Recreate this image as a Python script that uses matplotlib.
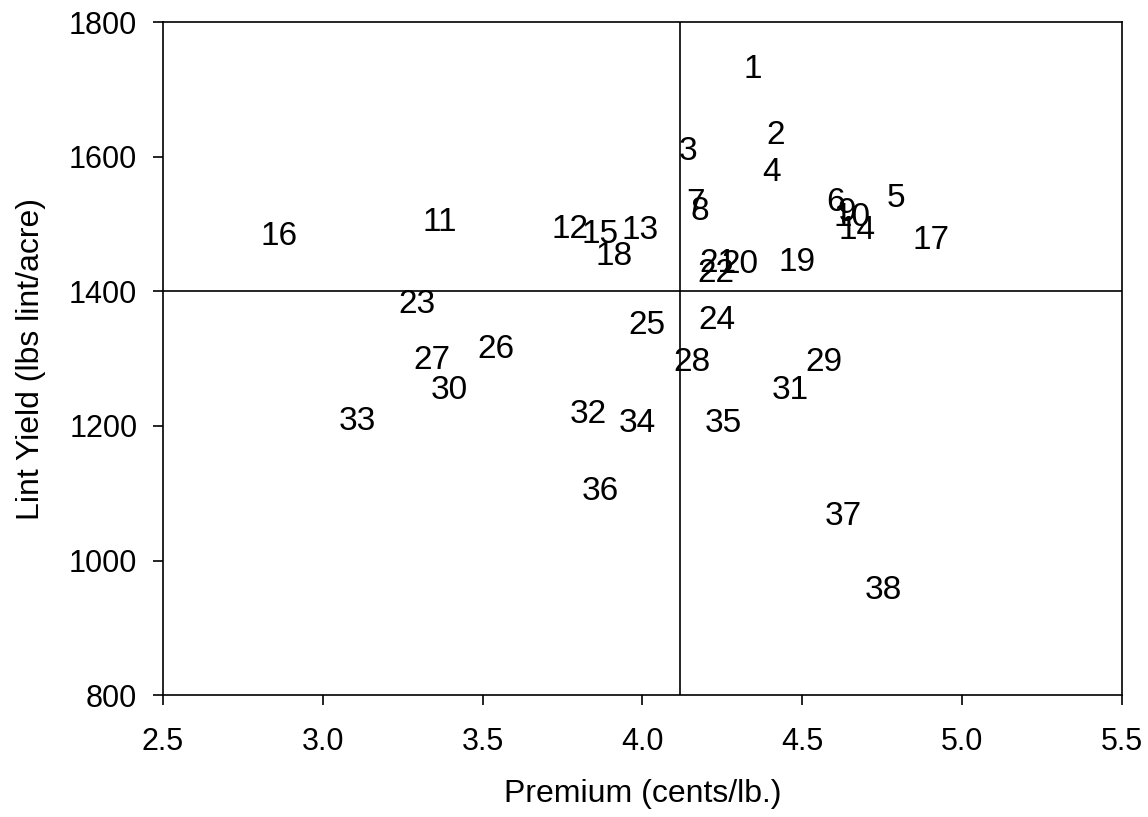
import matplotlib
matplotlib.use("Agg")
import matplotlib.pyplot as plt

plt.rcParams['font.family'] = ['Liberation Sans', 'DejaVu Sans']

labels = [str(i) for i in range(1, 39)]
premium = [4.346, 4.417, 4.142, 4.405, 4.793, 4.605, 4.167, 4.180, 4.640, 4.655,
           3.366, 3.773, 3.992, 4.671, 3.867, 2.863, 4.905, 3.911, 4.483, 4.305,
           4.236, 4.230, 3.294, 4.233, 4.014, 3.542, 3.341, 4.155, 4.568, 3.395,
           4.464, 3.832, 3.107, 3.983, 4.255, 3.870, 4.630, 4.755]
yield_ = [1729, 1631, 1608, 1576, 1538, 1532, 1530, 1518, 1517, 1510,
          1503, 1492, 1491, 1491, 1485, 1482, 1476, 1452, 1443, 1440,
          1442, 1426, 1381, 1356, 1350, 1314, 1298, 1295, 1295, 1253,
          1252, 1217, 1207, 1204, 1203, 1102, 1066, 956]

mean_premium = 4.117
mean_yield = 1400

xticks = [2.5, 3.0, 3.5, 4.0, 4.5, 5.0, 5.5]
yticks = [800, 1000, 1200, 1400, 1600, 1800]

fig = plt.figure(figsize=(11.48, 8.17), dpi=100)
ax = fig.add_axes([0.142, 0.149, 0.835, 0.824])
for lab, x, y in zip(labels, premium, yield_):
    ax.text(x, y, lab, ha='center', va='center', fontsize=24, color='black')
ax.axvline(mean_premium, color='black', lw=1.2)
ax.axhline(mean_yield, color='black', lw=1.2)
ax.set_xlim(2.5, 5.5)
ax.set_ylim(800, 1800)
ax.set_xticks(xticks)
ax.set_xticklabels([f"{t:.1f}" for t in xticks])
ax.set_yticks(yticks)
ax.tick_params(direction='out', length=7, labelsize=22, width=1.2)
ax.tick_params(axis='y', pad=11.5)
ax.tick_params(axis='x', pad=16)
for s in ax.spines.values():
    s.set_linewidth(1.2)
ax.set_xlabel("Premium (cents/lb.)", fontsize=23)
ax.set_ylabel("Lint Yield (lbs lint/acre)", fontsize=23)
ax.xaxis.set_label_coords(0.5, -0.125)
ax.yaxis.set_label_coords(-0.122, 0.5)
fig.savefig("out.png", dpi=100)
